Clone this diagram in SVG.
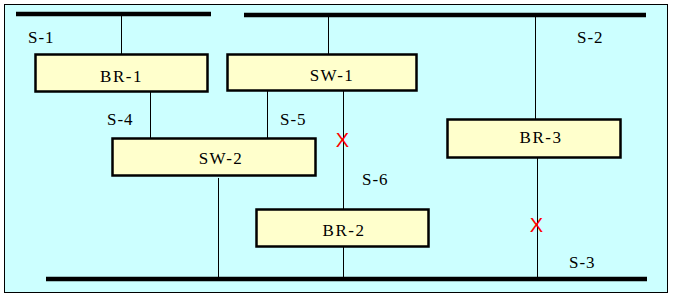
<svg xmlns="http://www.w3.org/2000/svg" width="673" height="298" viewBox="0 0 673 298">
<style>
.bus{stroke:#000;stroke-width:4.5}
.ln{stroke:#000;stroke-width:1}
.box{fill:#FFFFCC;stroke:#000;stroke-width:2.5}
.lbl{font-size:17px;fill:#000;letter-spacing:1px}
.nl{font-size:17px;fill:#000;text-anchor:middle;letter-spacing:1.5px}
.x{font-size:20px;fill:#FF0000;text-anchor:middle}
</style>
<rect x="4.5" y="4.5" width="663" height="288" fill="#CCFFFF" stroke="#000" stroke-width="1"/>
<g id="connectors">
<line class="bus" x1="16" y1="14" x2="211" y2="14"/>
<line class="bus" x1="244" y1="15" x2="646" y2="15"/>
<line class="bus" x1="46" y1="279" x2="647" y2="279"/>
<line class="ln" x1="121.5" y1="14" x2="121.5" y2="54"/>
<line class="ln" x1="150.5" y1="92" x2="150.5" y2="138"/>
<line class="ln" x1="328.5" y1="15" x2="328.5" y2="54"/>
<line class="ln" x1="267.5" y1="91" x2="267.5" y2="138"/>
<line class="ln" x1="343.5" y1="91" x2="343.5" y2="209"/>
<line class="ln" x1="535.5" y1="15" x2="535.5" y2="119"/>
<line class="ln" x1="537.5" y1="158" x2="537.5" y2="279"/>
<line class="ln" x1="218.5" y1="178" x2="218.5" y2="279"/>
<line class="ln" x1="343.5" y1="247" x2="343.5" y2="279"/>
<g font-family="'Liberation Sans', Arial, sans-serif">
<text class="x" x="342.5" y="147">X</text>
<text class="x" x="536.5" y="232" font-size="21">X</text>
</g>
</g>
<g id="labels" font-family="'Liberation Serif', 'Times New Roman', serif">
<text class="lbl" x="28" y="43">S-1</text>
<text class="lbl" x="577" y="43">S-2</text>
<text class="lbl" x="107" y="125">S-4</text>
<text class="lbl" x="280" y="125">S-5</text>
<text class="lbl" x="362" y="185">S-6</text>
<text class="lbl" x="569" y="268">S-3</text>
</g>
<g font-family="'Liberation Serif', 'Times New Roman', serif">
<g id="BR-1"><rect class="box" x="35.5" y="54.5" width="172" height="37"/><text class="nl" x="121.5" y="82">BR-1</text></g>
<g id="SW-1"><rect class="box" x="227.5" y="54.5" width="189" height="36"/><text class="nl" x="332" y="81">SW-1</text></g>
<g id="BR-3"><rect class="box" x="447.5" y="119.5" width="173" height="38"/><text class="nl" x="541" y="143">BR-3</text></g>
<g id="SW-2"><rect class="box" x="112.5" y="138.5" width="203" height="37"/><text class="nl" x="221" y="164">SW-2</text></g>
<g id="BR-2"><rect class="box" x="256.5" y="209.5" width="172" height="37"/><text class="nl" x="344" y="236">BR-2</text></g>
</g>
</svg>
